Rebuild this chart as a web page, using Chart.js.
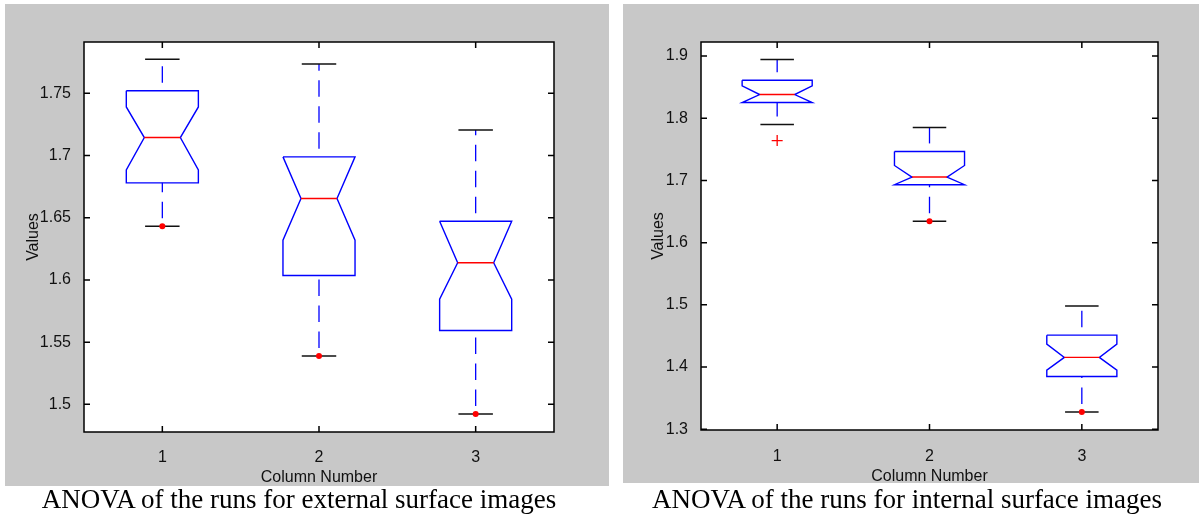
<!DOCTYPE html>
<html>
<head>
<meta charset="utf-8">
<script src="https://cdn.jsdelivr.net/npm/chart.js@4.4.1/dist/chart.umd.min.js"></script>
<style>
html,body{margin:0;padding:0;background:#fff;width:1200px;height:518px;overflow:hidden;}
.panel{position:absolute;background:#c8c8c8;}
#p1{left:5px;top:4px;width:604px;height:482px;}
#p2{left:623px;top:4px;width:576px;height:479px;}
canvas{display:block;}
.cap{position:absolute;top:484px;font-family:"Liberation Serif","Times New Roman",serif;font-size:27px;line-height:30px;white-space:nowrap;color:#000;text-align:center;}
#cap1{left:0;width:598px;}
#cap2{left:607px;width:600px;}
</style>
</head>
<body>
<div class="panel" id="p1"><canvas id="c1" width="604" height="482"></canvas></div>
<div class="panel" id="p2"><canvas id="c2" width="576" height="479"></canvas></div>
<div class="cap" id="cap1">ANOVA of the runs for external surface images</div>
<div class="cap" id="cap2">ANOVA of the runs for internal surface images</div>
<script>
// ---------- data ----------
const categories = [1, 2, 3];
const xTickLabels = ['1', '2', '3'];

// external surface images
const extMax     = [1.7773, 1.7735, 1.7205];
const extQ3      = [1.7520, 1.6989, 1.6472];
const extNotchHi = [1.7390, 1.6989, 1.6472];
const extMedian  = [1.7144, 1.6654, 1.6138];
const extNotchLo = [1.6884, 1.6320, 1.5846];
const extQ1      = [1.6780, 1.6036, 1.5594];
const extMin     = [1.6432, 1.5389, 1.4923];
const extDots    = [1.6432, 1.5389, 1.4923];
const extOutlierCol = [];
const extOutlierVal = [];
const extYTicks      = [1.5, 1.55, 1.6, 1.65, 1.7, 1.75];
const extYTickLabels = ['1.5', '1.55', '1.6', '1.65', '1.7', '1.75'];
const extYMin = 1.4778, extYMax = 1.7912;

// internal surface images
const intMax     = [1.8942, 1.7850, 1.4980];
const intQ3      = [1.8610, 1.7466, 1.4513];
const intNotchHi = [1.8519, 1.7240, 1.4369];
const intMedian  = [1.8380, 1.7054, 1.4155];
const intNotchLo = [1.8252, 1.6931, 1.3950];
const intQ1      = [1.8252, 1.6931, 1.3848];
const intMin     = [1.7897, 1.6342, 1.3276];
const intDots    = [null, 1.6342, 1.3276];
const intOutlierCol = [1];
const intOutlierVal = [1.764];
const intYTicks      = [1.3, 1.4, 1.5, 1.6, 1.7, 1.8, 1.9];
const intYTickLabels = ['1.3', '1.4', '1.5', '1.6', '1.7', '1.8', '1.9'];
const intYMin = 1.2988, intYMax = 1.9225;

// ---------- styling ----------
const BLUE = '#0000ff', RED = '#ff0000', CAPC = '#111';
const HALF_BOX = 0.23, HALF_NOTCH = 0.115, HALF_CAP = 0.11;
const AXFONT = '"Liberation Sans",Arial,Helvetica,sans-serif';
const AXSIZE = 16;

function lineDs(pts, color, width, order, dash) {
  return {
    data: pts, showLine: true, borderColor: color, backgroundColor: color, order: order,
    borderWidth: width, pointRadius: 0, pointHoverRadius: 0, fill: false, tension: 0,
    borderDash: dash || [], borderDashOffset: dash ? 18 : 0, borderJoinStyle: 'miter'
  };
}

function buildDatasets(s) {
  const ds = [];
  categories.forEach((c, i) => {
    const poly = [
      {x: c - HALF_BOX, y: s.q3[i]}, {x: c + HALF_BOX, y: s.q3[i]},
      {x: c + HALF_BOX, y: s.nHi[i]}, {x: c + HALF_NOTCH, y: s.med[i]},
      {x: c + HALF_BOX, y: s.nLo[i]}, {x: c + HALF_BOX, y: s.q1[i]},
      {x: c - HALF_BOX, y: s.q1[i]}, {x: c - HALF_BOX, y: s.nLo[i]},
      {x: c - HALF_NOTCH, y: s.med[i]}, {x: c - HALF_BOX, y: s.nHi[i]},
      {x: c - HALF_BOX, y: s.q3[i]}
    ];
    ds.push(lineDs([{x: c, y: s.q3[i]}, {x: c, y: s.max[i]}], BLUE, 1.3, 6, [16.5, 9.5]));
    ds.push(lineDs([{x: c, y: s.min[i]}, {x: c, y: s.q1[i]}], BLUE, 1.3, 6, [16.5, 9.5]));
    ds.push(lineDs([{x: c - HALF_CAP, y: s.max[i]}, {x: c + HALF_CAP, y: s.max[i]}], CAPC, 1.5, 5));
    ds.push(lineDs([{x: c - HALF_CAP, y: s.min[i]}, {x: c + HALF_CAP, y: s.min[i]}], CAPC, 1.5, 5));
    ds.push(lineDs(poly, BLUE, 1.4, 4));
    ds.push(lineDs([{x: c - HALF_NOTCH, y: s.med[i]}, {x: c + HALF_NOTCH, y: s.med[i]}], RED, 1.4, 3));
  });
  ds.push({
    data: categories.map((c, i) => s.dots[i] == null ? null : {x: c, y: s.dots[i]}).filter(p => p),
    showLine: false, pointStyle: 'circle', pointRadius: 3, pointHoverRadius: 3, order: 1,
    backgroundColor: RED, borderColor: RED, borderWidth: 0
  });
  ds.push({
    data: s.oCol.map((c, i) => ({x: c, y: s.oVal[i]})),
    showLine: false, pointStyle: 'cross', pointRadius: 5.5, pointHoverRadius: 5.5, order: 1,
    backgroundColor: RED, borderColor: RED, borderWidth: 1.3
  });
  return ds;
}

const framePlugin = {
  id: 'frame',
  beforeDraw(chart) {
    const a = chart.chartArea, ctx = chart.ctx;
    ctx.save();
    ctx.fillStyle = '#fff';
    ctx.fillRect(a.left, a.top, a.right - a.left, a.bottom - a.top);
    ctx.restore();
  },
  afterDraw(chart) {
    const a = chart.chartArea, ctx = chart.ctx;
    const xs = chart.scales.x, ys = chart.scales.y, T = 6;
    ctx.save();
    ctx.strokeStyle = '#000';
    ctx.lineWidth = 1.5;
    ctx.beginPath();
    ys.ticks.forEach(t => {
      const y = ys.getPixelForValue(t.value);
      ctx.moveTo(a.left, y); ctx.lineTo(a.left + T, y);
      ctx.moveTo(a.right, y); ctx.lineTo(a.right - T, y);
    });
    xs.ticks.forEach(t => {
      const x = xs.getPixelForValue(t.value);
      ctx.moveTo(x, a.bottom); ctx.lineTo(x, a.bottom - T);
      ctx.moveTo(x, a.top); ctx.lineTo(x, a.top + T);
    });
    ctx.stroke();
    ctx.strokeRect(a.left, a.top, a.right - a.left, a.bottom - a.top);
    ctx.restore();
  }
};

function makeChart(id, s, cfg) {
  return new Chart(document.getElementById(id), {
    type: 'scatter',
    data: {datasets: buildDatasets(s)},
    plugins: [framePlugin],
    options: {
      responsive: false, animation: false, devicePixelRatio: 1,
      layout: {padding: {left: 0, top: cfg.padTop, right: cfg.padRight, bottom: 0}},
      plugins: {legend: {display: false}, tooltip: {enabled: false}},
      scales: {
        x: {
          type: 'linear', position: 'bottom', min: 0.5, max: 3.5, bounds: 'data',
          grid: {display: false}, border: {display: false},
          afterBuildTicks: sc => { sc.ticks = categories.map(v => ({value: v})); },
          afterFit: sc => { sc.height = cfg.xHeight; },
          ticks: {padding: cfg.xTickPad, color: '#111', font: {family: AXFONT, size: AXSIZE}, maxRotation: 0,
                  callback: (v, i) => xTickLabels[i]},
          title: {display: true, text: 'Column Number', color: '#111',
                  font: {family: AXFONT, size: AXSIZE, lineHeight: 1.2}, padding: {top: 0, bottom: cfg.xTitlePad}}
        },
        y: {
          type: 'linear', position: 'left', min: cfg.yMin, max: cfg.yMax, bounds: 'data',
          grid: {display: false}, border: {display: false},
          afterBuildTicks: sc => { sc.ticks = cfg.yTicks.map(v => ({value: v})); },
          afterFit: sc => { sc.width = cfg.yWidth; },
          ticks: {padding: 5, color: '#111', font: {family: AXFONT, size: AXSIZE},
                  callback: (v, i) => cfg.yLabels[i]},
          title: {display: true, text: 'Values', color: '#111',
                  font: {family: AXFONT, size: AXSIZE, lineHeight: 1.2}, padding: {top: cfg.yTitlePad, bottom: 0}}
        }
      }
    }
  });
}

makeChart('c1', {
  max: extMax, q3: extQ3, nHi: extNotchHi, med: extMedian, nLo: extNotchLo, q1: extQ1, min: extMin,
  dots: extDots, oCol: extOutlierCol, oVal: extOutlierVal
}, {padTop: 38, padRight: 55, xHeight: 54, yWidth: 79, yMin: extYMin, yMax: extYMax,
    yTicks: extYTicks, yLabels: extYTickLabels, xTickPad: 8, xTitlePad: -1.5, yTitlePad: 19});

makeChart('c2', {
  max: intMax, q3: intQ3, nHi: intNotchHi, med: intMedian, nLo: intNotchLo, q1: intQ1, min: intMin,
  dots: intDots, oCol: intOutlierCol, oVal: intOutlierVal
}, {padTop: 38, padRight: 41, xHeight: 53, yWidth: 78, yMin: intYMin, yMax: intYMax,
    yTicks: intYTicks, yLabels: intYTickLabels, xTickPad: 9, xTitlePad: -3.5, yTitlePad: 26});
</script>
</body>
</html>
